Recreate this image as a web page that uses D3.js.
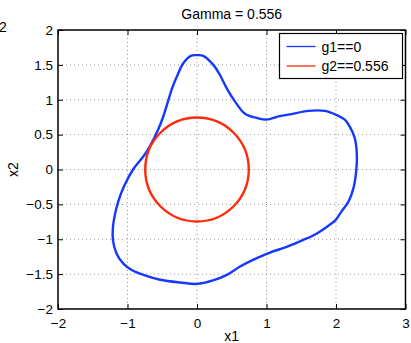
<!DOCTYPE html>
<html>
<head>
<meta charset="utf-8">
<script src="https://cdn.jsdelivr.net/npm/d3@7"></script>
<style>
  body { margin: 0; background: #fff; }
  svg text { font-family: "Liberation Sans", Arial, sans-serif; }
</style>
</head>
<body>
<div id="chart-area"></div>
<script>
// contour g1 == 0 (x1, x2)
var g1X = [0, 0.09, 0.235, 0.33, 0.43, 0.55, 0.69, 0.86, 1.0, 1.19, 1.34, 1.6, 1.84, 2.01, 2.13, 2.2, 2.27, 2.3, 2.29, 2.25,
    2.18, 2.08, 1.99, 1.87, 1.72, 1.53, 1.29, 1.05, 0.86, 0.62, 0.43, 0.23, 0, -0.24, -0.53, -0.77, -0.94, -1.06, -1.16, -1.21,
    -1.21, -1.18, -1.13, -1.05, -0.92, -0.77, -0.68, -0.56, -0.485, -0.41, -0.36, -0.28, -0.2, -0.09];
var g1Y = [1.64, 1.63, 1.5, 1.355, 1.16, 0.97, 0.8, 0.74, 0.715, 0.765, 0.79, 0.84, 0.84, 0.78, 0.71, 0.61, 0.45, 0.21, -0.03, -0.27,
    -0.46, -0.6, -0.73, -0.82, -0.92, -1.01, -1.11, -1.19, -1.27, -1.39, -1.51, -1.59, -1.64, -1.62, -1.58, -1.51, -1.44, -1.35, -1.2, -1.01,
    -0.83, -0.64, -0.45, -0.24, 0.0, 0.19, 0.33, 0.57, 0.76, 1.0, 1.16, 1.355, 1.52, 1.63];

// contour g2 == 0.556 : circle centre and radius
var g2Center = [0, 0];
var g2Radius = 0.745;

var xTicks = [-2, -1, 0, 1, 2, 3];
var yTicks = [-2, -1.5, -1, -0.5, 0, 0.5, 1, 1.5, 2];
var legendLabels = ['g1==0', 'g2==0.556'];
var colors = ['#1438ff', '#ff2a0a'];

var W = 411, H = 343;
var margin = { top: 30, right: 5.5, bottom: 34, left: 58 };
var width = W - margin.left - margin.right;
var height = H - margin.top - margin.bottom;

var svg = d3.select('#chart-area')
    .append('svg')
        .attr('width', W)
        .attr('height', H);

var g = svg.append('g')
    .attr('transform', 'translate(' + margin.left + ',' + margin.top + ')');

var x = d3.scaleLinear().domain([-2, 3]).range([0, width]);
var y = d3.scaleLinear().domain([-2, 2]).range([height, 0]);

// grid
g.append('g').selectAll('line').data(xTicks.slice(1, -1)).enter().append('line')
    .attr('x1', function (d) { return x(d) }).attr('x2', function (d) { return x(d) })
    .attr('y1', 0).attr('y2', height)
    .attr('stroke', '#999').attr('stroke-width', 1).attr('stroke-dasharray', '1,3');
g.append('g').selectAll('line').data(yTicks.slice(1, -1)).enter().append('line')
    .attr('x1', 0).attr('x2', width)
    .attr('y1', function (d) { return y(d) }).attr('y2', function (d) { return y(d) })
    .attr('stroke', '#999').attr('stroke-width', 1).attr('stroke-dasharray', '1,3');

var fmt = function (d) { return String(d).replace('-', '\u2212') };

// axes (ticks inside, matlab style)
g.append('g')
    .attr('transform', 'translate(0,' + height + ')')
    .call(d3.axisBottom(x).tickValues(xTicks).tickSize(-5).tickPadding(9).tickFormat(fmt));
g.append('g')
    .call(d3.axisLeft(y).tickValues(yTicks).tickSize(-5).tickPadding(5).tickFormat(fmt));
g.append('g')
    .call(d3.axisTop(x).tickValues(xTicks).tickSize(-5).tickFormat(''));
g.append('g')
    .attr('transform', 'translate(' + width + ',0)')
    .call(d3.axisRight(y).tickValues(yTicks).tickSize(-5).tickFormat(''));
g.selectAll('.domain').remove();
g.selectAll('.tick line').attr('stroke', '#000');
g.selectAll('.tick text').attr('font-size', '13.5px').attr('fill', '#000')
    .attr('font-family', '"Liberation Sans", Arial, sans-serif');

// contours
var pts = g1X.map(function (d, i) { return [d, g1Y[i]] });
var line = d3.line()
    .x(function (d) { return x(d[0]) })
    .y(function (d) { return y(d[1]) })
    .curve(d3.curveCatmullRomClosed);

g.append('path')
    .attr('d', line(pts))
    .attr('fill', 'none')
    .attr('stroke', colors[0])
    .attr('stroke-width', 2.4);

g.append('ellipse')
    .attr('cx', x(g2Center[0]))
    .attr('cy', y(g2Center[1]))
    .attr('rx', x(g2Radius) - x(0))
    .attr('ry', y(0) - y(g2Radius))
    .attr('fill', 'none')
    .attr('stroke', colors[1])
    .attr('stroke-width', 2.4);

// box
g.append('rect')
    .attr('width', width).attr('height', height)
    .attr('fill', 'none').attr('stroke', '#000').attr('stroke-width', 1.5);

// legend
var lg = svg.append('g').attr('transform', 'translate(279.5,33.5)');
lg.append('rect').attr('width', 123).attr('height', 45)
    .attr('fill', '#fff').attr('stroke', '#000').attr('stroke-width', 1.2);
legendLabels.forEach(function (t, i) {
    lg.append('line')
        .attr('x1', 7).attr('x2', 36)
        .attr('y1', 13 + i * 19.5).attr('y2', 13 + i * 19.5)
        .attr('stroke', colors[i]).attr('stroke-width', 1.3);
    lg.append('text')
        .attr('x', 42).attr('y', 18 + i * 19.5)
        .attr('font-size', '14px')
        .text(t);
});

// labels
svg.append('text')
    .attr('x', margin.left + width / 2).attr('y', 19)
    .attr('text-anchor', 'middle').attr('font-size', '14px')
    .text('Gamma = 0.556');
svg.append('text')
    .attr('x', margin.left + width / 2).attr('y', 341)
    .attr('text-anchor', 'middle').attr('font-size', '14px')
    .text('x1');
svg.append('text')
    .attr('transform', 'translate(18,' + (margin.top + height / 2) + ') rotate(-90)')
    .attr('text-anchor', 'middle').attr('font-size', '14px')
    .text('x2');
svg.append('text')
    .attr('x', -1).attr('y', 32)
    .attr('font-size', '14px')
    .text('2');
</script>
</body>
</html>
